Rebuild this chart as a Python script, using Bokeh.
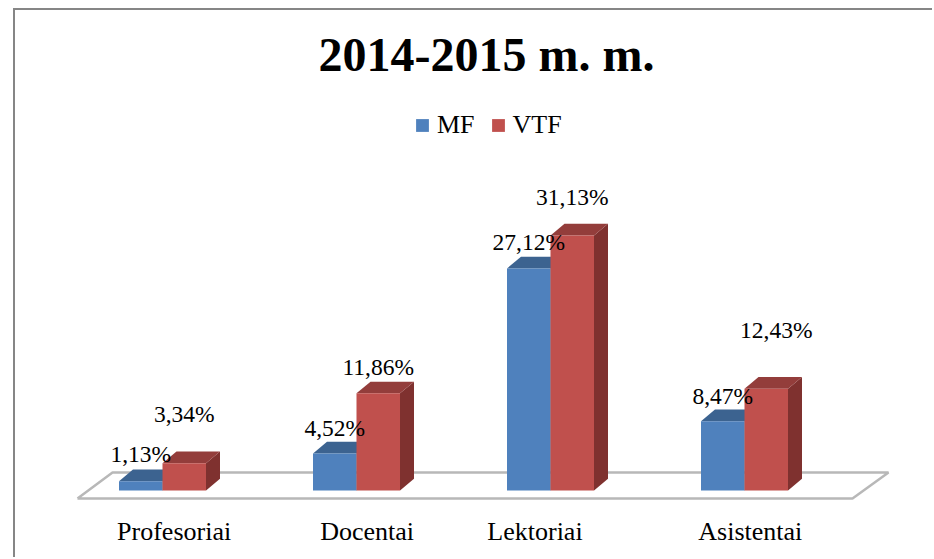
from bokeh.plotting import figure
from bokeh.embed import file_html
from bokeh.resources import INLINE
from bokeh.core.properties import value
from bokeh.models import FixedTicker, Legend, LegendItem, LinearAxis, Range1d

# ---- data ----
title_text = "2014-2015 m. m."
categories = ["Profesoriai", "Docentai", "Lektoriai", "Asistentai"]
series_names = ["MF", "VTF"]
mf_values = [1.13, 4.52, 27.12, 8.47]
vtf_values = [3.34, 11.86, 31.13, 12.43]
mf_labels = ["1,13%", "4,52%", "27,12%", "8,47%"]
vtf_labels = ["3,34%", "11,86%", "31,13%", "12,43%"]

# ---- style / layout ----
FONT = "Liberation Serif"
BLUE, BLUE_TOP, BLUE_SIDE = "#4f81bd", "#3c6390", "#33547c"
RED, RED_TOP, RED_SIDE = "#c0504d", "#933d3b", "#7f312f"
FLOOR = "#b8b8b8"
BORDER = "#868686"
OFFX, OFFY = 15, 10   # canvas position on the page
W, H = 934 - OFFX, 559 - OFFY
PX_X = 194.0      # pixels per category
PX_Y = 8.19       # pixels per value unit
ORIGIN_X = 162 - OFFX
BASE_Y = 490 - OFFY
FRAME_TOP = 80 - OFFY
FRAME_BOTTOM = 510 - OFFY
BAR_W = 43.5 / PX_X
DEPTH_X = 14 / PX_X
DEPTH_Y = 11.7 / PX_Y
tick_shift = [0.06, 0.055, -0.08, 0.03]
mf_label_lift = [27, 25, 26, 25]
vtf_label_lift = [49, 26, 39, 59]
vtf_label_shift = [0, 0, 0, 10]

p = figure(width=W, height=H, output_backend="svg", toolbar_location=None,
           x_axis_type=None, y_axis_type=None,
           min_border_left=0, min_border_right=0,
           min_border_top=FRAME_TOP, min_border_bottom=H - FRAME_BOTTOM,
           outline_line_color=None, background_fill_color="white",
           x_range=Range1d(-ORIGIN_X / PX_X, (W - ORIGIN_X) / PX_X),
           y_range=Range1d((BASE_Y - FRAME_BOTTOM) / PX_Y, (BASE_Y - FRAME_TOP) / PX_Y))
p.grid.visible = False
p.margin = (8, 0, 0, 13)
p.styles = {"border-left": f"2px solid {BORDER}", "border-top": f"2px solid {BORDER}"}

p.title.text = title_text
p.title.align = "left"
p.title.offset = 318 - OFFX
p.title.text_font = FONT
p.title.text_font_size = "48px"
p.title.text_font_style = "bold"
p.title.text_color = "black"
p.title.standoff = 0

# floor of the 3D chart, from the category extent
n = len(categories)
fl, fr = -85 / PX_X, n - 1 + 108 / PX_X
fy0, fy1 = -8 / PX_Y, 18 / PX_Y
floor_x = [fl, fr, fr + 36 / PX_X, fl + 35 / PX_X, fl]
floor_y = [fy0, fy0, fy1, fy1, fy0]
p.line(floor_x, floor_y, line_color=FLOOR, line_width=2.5)


def faces(center, vals, front, top, side):
    for c, v in zip(center, vals):
        left, right = c - BAR_W / 2, c + BAR_W / 2
        p.patch([right, right + DEPTH_X, right + DEPTH_X, right],
                [0, DEPTH_Y, v + DEPTH_Y, v], color=side, line_color=None)
        p.patch([left, left + DEPTH_X, right + DEPTH_X, right],
                [v, v + DEPTH_Y, v + DEPTH_Y, v], color=top, line_color=None)
    return p.vbar(x=center, top=vals, bottom=0, width=BAR_W, color=front, line_color=None)


idx = list(range(n))
r_mf = faces([i - BAR_W / 2 for i in idx], mf_values, BLUE, BLUE_TOP, BLUE_SIDE)
r_vtf = faces([i + BAR_W / 2 for i in idx], vtf_values, RED, RED_TOP, RED_SIDE)

# data labels
label_style = dict(text_font=value(FONT), text_font_size=value("23.5px"), text_align="center",
                   text_baseline="middle", text_color="black")
p.text(x=[i - BAR_W / 2 for i in idx], y=mf_values, text=mf_labels,
       y_offset=[-d for d in mf_label_lift], **label_style)
p.text(x=[i + BAR_W / 2 for i in idx], y=vtf_values, text=vtf_labels,
       x_offset=vtf_label_shift, y_offset=[-d for d in vtf_label_lift], **label_style)

# category axis
ticks = [i + s for i, s in zip(idx, tick_shift)]
xaxis = LinearAxis(ticker=FixedTicker(ticks=ticks),
                   major_label_overrides=dict(zip(ticks, categories)))
xaxis.axis_line_color = None
xaxis.major_tick_line_color = None
xaxis.minor_tick_line_color = None
xaxis.major_label_text_font = FONT
xaxis.major_label_text_font_size = "26px"
xaxis.major_label_text_color = "black"
xaxis.major_label_standoff = 0
p.add_layout(xaxis, "below")

legend = Legend(items=[LegendItem(label=series_names[0], renderers=[r_mf]),
                       LegendItem(label=series_names[1], renderers=[r_vtf])],
                orientation="horizontal", location=(399, 370),
                border_line_color=None, background_fill_alpha=0,
                label_text_font=FONT, label_text_font_size="26px", label_text_color="black",
                label_text_baseline="alphabetic",
                glyph_width=16, glyph_height=16, spacing=15, label_standoff=7,
                padding=0, margin=0)
p.add_layout(legend, "center")

open("out.html", "w").write(file_html(p, INLINE))
